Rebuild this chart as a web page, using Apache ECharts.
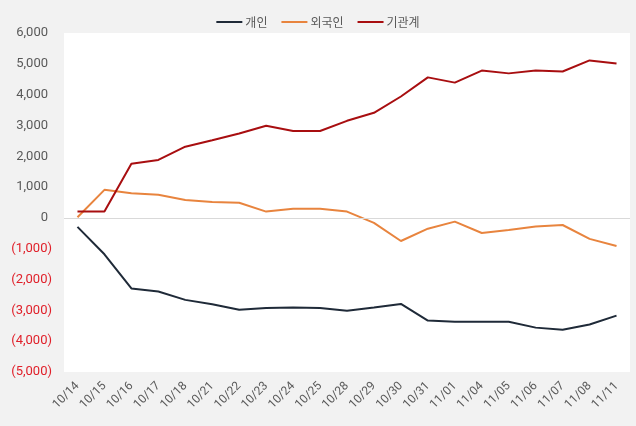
<!DOCTYPE html>
<html><head><meta charset="utf-8">
<script src="https://cdn.jsdelivr.net/npm/echarts@6/dist/echarts.min.js"></script>
<style>html,body{margin:0;padding:0;background:#f2f2f2}#c{width:636px;height:426px}</style>
</head><body><div id="c"></div>
<script>
const categories = ['10/14','10/15','10/16','10/17','10/18','10/21','10/22','10/23','10/24','10/25','10/28','10/29','10/30','10/31','11/01','11/04','11/05','11/06','11/07','11/08','11/11'];
const individual = [-290,-1180,-2290,-2390,-2660,-2800,-2980,-2920,-2910,-2920,-3010,-2910,-2790,-3330,-3370,-3370,-3370,-3560,-3630,-3460,-3170];
const foreign = [20,910,800,750,580,520,490,205,300,300,205,-160,-750,-350,-120,-490,-390,-280,-230,-680,-910];
const institution = [205,205,1760,1880,2310,2520,2740,2990,2820,2820,3150,3410,3940,4560,4390,4780,4690,4780,4750,5110,5010];
const seriesNames = ['개인','외국인','기관계'];
const yMin = -5000, yMax = 6000, yStep = 1000;

const chart = echarts.init(document.getElementById('c'));
const fontNum = 'Roboto, "Noto Sans CJK KR", sans-serif';
function mk(name, data, color, extra) {
  return Object.assign({
    name, type: 'line', data, symbol: 'none', smooth: false,
    lineStyle: { width: 2, color }, itemStyle: { color }
  }, extra || {});
}
chart.setOption({
  backgroundColor: '#f2f2f2',
  animation: false,
  legend: {
    top: 11, left: 'center', itemWidth: 26, itemHeight: 10, itemGap: 14,
    icon: 'path://M0,4 L26,4 L26,6 L0,6 Z',
    textStyle: { fontFamily: '"Noto Sans CJK KR", sans-serif', fontSize: 12, color: '#595959', padding: [0,0,0,-2] },
    data: seriesNames
  },
  grid: { left: 64, right: 6, top: 33, bottom: 54, show: true, backgroundColor: '#ffffff', borderWidth: 0, containLabel: false },
  xAxis: {
    type: 'category', data: categories, boundaryGap: true,
    axisLine: { show: false, onZero: false },
    axisTick: { show: false },
    axisLabel: { rotate: 45, margin: 12, fontFamily: fontNum, fontSize: 12, color: '#595959', interval: 0 }
  },
  yAxis: {
    type: 'value', min: yMin, max: yMax, interval: yStep,
    axisLine: { show: false }, axisTick: { show: false }, splitLine: { show: false },
    axisLabel: {
      margin: 12, fontFamily: fontNum, fontSize: 13,
      formatter: function (v) {
        const s = Math.abs(v).toLocaleString('en-US');
        return v < 0 ? '{neg|(' + s + ')}' : '{pos|' + s + '}';
      },
      rich: {
        pos: { color: '#595959', fontFamily: fontNum, fontSize: 13, padding: [0, 4, 0, 0] },
        neg: { color: '#e0202a', fontFamily: fontNum, fontSize: 13 }
      }
    }
  },
  series: [
    mk(seriesNames[0], individual, '#1f2a38', {
      markLine: { silent: true, symbol: 'none', label: { show: false },
        lineStyle: { color: '#d9d9d9', width: 1, type: 'solid' }, data: [{ yAxis: 0 }] },
      z: 3
    }),
    mk(seriesNames[1], foreign, '#e8843e', { z: 2 }),
    mk(seriesNames[2], institution, '#a80e10', { z: 4 })
  ]
});
</script></body></html>
